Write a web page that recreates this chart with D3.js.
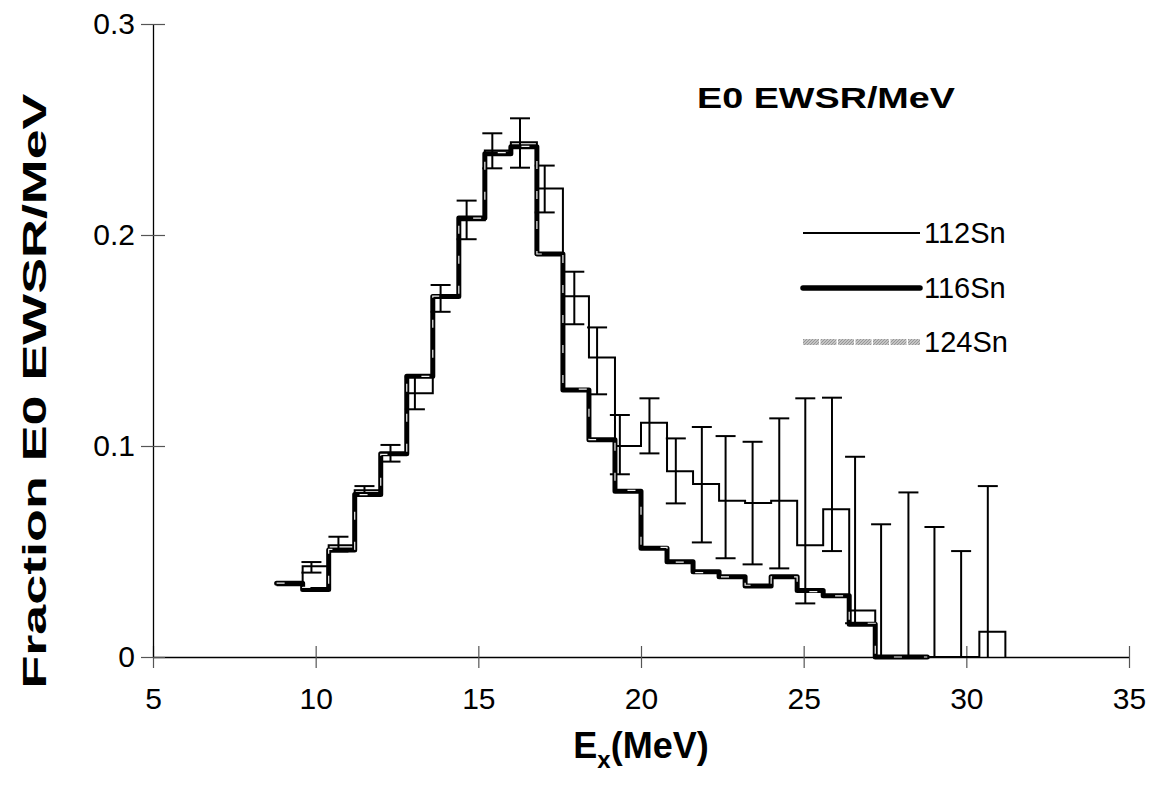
<!DOCTYPE html>
<html>
<head>
<meta charset="utf-8">
<script src="https://cdn.jsdelivr.net/npm/d3@7"></script>
<style>
  body { margin: 0; background: #fff; }
  text { font-family: Arial, "Liberation Sans", sans-serif; }
</style>
</head>
<body>
<div id="wrapper"></div>
<script>
// bin edges (MeV), shared by all three histograms
const binEdges = [8.8, 9.6, 10.4, 11.2, 12.0, 12.8, 13.6, 14.4, 15.2, 16.0, 16.8, 17.6, 18.4, 19.2,
  20.0, 20.8, 21.6, 22.4, 23.2, 24.0, 24.8, 25.6, 26.4, 27.2, 28.0, 28.8, 29.6, 30.4, 31.2]

// 112Sn: value per bin + error bars
const sn112 = [0.034, 0.043, 0.053, 0.079, 0.096, 0.125, 0.171, 0.207, 0.240, 0.244, 0.222, 0.171, 0.142, 0.100,
  0.111, 0.088, 0.082, 0.074, 0.073, 0.074, 0.053, 0.070, 0.022, 0, 0, 0, 0, 0.012]
const sn112ErrE = [null, 9.87, 10.70, 11.50, 12.30, 13.05, 13.84, 14.64, 15.43, 16.28, 17.04, 17.95, 18.65, 19.35,
  20.26, 21.07, 21.87, 22.60, 23.43, 24.25, 25.05, 25.87, 26.58, 27.38, 28.22, 29.02, 29.84, 30.66]
const sn112Lo = [null, 0.040, 0.050, 0.077, 0.0926, 0.1174, 0.1636, 0.198, 0.2316, 0.2319, 0.2107, 0.1577, 0.1245, 0.0866,
  0.0965, 0.0728, 0.0543, 0.0468, 0.0439, 0.042, 0.0254, 0.0502, 0.016, 0, 0, 0, 0, 0]
const sn112Hi = [null, 0.045, 0.057, 0.081, 0.1005, 0.1327, 0.1763, 0.2163, 0.2482, 0.2553, 0.2329, 0.1826, 0.1562, 0.1147,
  0.1226, 0.1036, 0.109, 0.1047, 0.102, 0.1131, 0.1226, 0.1229, 0.0949, 0.0629, 0.078, 0.0616, 0.0502, 0.081]

// 116Sn
const sn116 = [0.035, 0.032, 0.0507, 0.077, 0.0963, 0.133, 0.1708, 0.208, 0.2385, 0.2418, 0.191, 0.1265, 0.103, 0.0785,
  0.0515, 0.0452, 0.0404, 0.038, 0.0336, 0.038, 0.0315, 0.029, 0.0155, 0, 0]

// 124Sn (light hatched, mostly hidden under the others)
const sn124 = [0.035, 0.033, 0.051, 0.077, 0.096, 0.133, 0.171, 0.208, 0.239, 0.242, 0.191, 0.127, 0.103, 0.079,
  0.052, 0.045, 0.040, 0.038, 0.034, 0.038, 0.031, 0.029, 0.016, 0, 0]

const xTicks = [5, 10, 15, 20, 25, 30, 35]
const yTicks = [0, 0.1, 0.2, 0.3]
const yTickLabels = ["0", "0.1", "0.2", "0.3"]
const seriesNames = ["112Sn", "116Sn", "124Sn"]

const width = 1151
const height = 794

const svg = d3.select("#wrapper")
  .append("svg")
  .attr("width", width)
  .attr("height", height)

const defs = svg.append("defs")
const hatch = defs.append("pattern")
  .attr("id", "hatch")
  .attr("patternUnits", "userSpaceOnUse")
  .attr("width", 3)
  .attr("height", 3)
hatch.append("rect").attr("width", 3).attr("height", 3).attr("fill", "#c4c4c4")
hatch.append("path").attr("d", "M0,3 L3,0").attr("stroke", "#8c8c8c").attr("stroke-width", 0.8)

const xScale = d3.scaleLinear().domain([5, 35]).range([153, 1129])
const yScale = d3.scaleLinear().domain([0, 0.3]).range([657, 24])

// axes
const xAxis = svg.append("g")
  .attr("transform", `translate(0,${yScale(0)})`)
  .call(d3.axisBottom(xScale).tickValues(xTicks).tickSize(11).tickSizeOuter(0).tickPadding(20))
xAxis.select(".domain").attr("stroke", "#000").attr("stroke-width", 1.3)
xAxis.selectAll(".tick line").attr("y1", -11).attr("y2", 11).attr("stroke", "#555").attr("stroke-width", 1.2)
xAxis.selectAll(".tick text").attr("font-size", 30).attr("fill", "#000")
  .style("font-family", "Arial, 'Liberation Sans', sans-serif")

const yAxis = svg.append("g")
  .attr("transform", `translate(${xScale(5)},0)`)
  .call(d3.axisLeft(yScale).tickValues(yTicks).tickFormat((d, i) => yTickLabels[i])
    .tickSize(12).tickSizeOuter(0).tickPadding(6))
yAxis.select(".domain").attr("stroke", "#000").attr("stroke-width", 1.3)
yAxis.selectAll(".tick line").attr("x1", -12).attr("x2", 12).attr("stroke", "#555").attr("stroke-width", 1.2)
yAxis.selectAll(".tick text").attr("font-size", 30).attr("fill", "#000")
  .style("font-family", "Arial, 'Liberation Sans', sans-serif")

// step path builder
const stepLine = d3.line()
  .x(d => xScale(d[0]))
  .y(d => yScale(d[1]))
  .curve(d3.curveStepAfter)

const stepPoints = (vals, closeToZero) => {
  const pts = vals.map((v, i) => [binEdges[i], v])
  pts.push([binEdges[vals.length], vals[vals.length - 1]])
  if (closeToZero) pts.push([binEdges[vals.length], 0])
  return pts
}

const plot = svg.append("g")

// 112Sn error bars
const errData = sn112ErrE.map((e, i) => ({ e, lo: sn112Lo[i], hi: sn112Hi[i] })).filter(d => d.e !== null)
const capHalf = 10
const errG = plot.append("g").attr("stroke", "#000").attr("stroke-width", 2)
errG.selectAll(".eb")
  .data(errData)
  .join("line")
  .attr("x1", d => xScale(d.e)).attr("x2", d => xScale(d.e))
  .attr("y1", d => yScale(d.lo)).attr("y2", d => yScale(d.hi))
errG.selectAll(".capHi")
  .data(errData)
  .join("line")
  .attr("class", "capHi")
  .attr("x1", d => xScale(d.e) - capHalf).attr("x2", d => xScale(d.e) + capHalf)
  .attr("y1", d => yScale(d.hi)).attr("y2", d => yScale(d.hi))
errG.selectAll(".capLo")
  .data(errData.filter(d => d.lo > 0))
  .join("line")
  .attr("class", "capLo")
  .attr("x1", d => xScale(d.e) - capHalf).attr("x2", d => xScale(d.e) + capHalf)
  .attr("y1", d => yScale(d.lo)).attr("y2", d => yScale(d.lo))

// 112Sn step
plot.append("path")
  .attr("d", stepLine(stepPoints(sn112, true)))
  .attr("fill", "none")
  .attr("stroke", "#000")
  .attr("stroke-width", 2)

// 116Sn step
plot.append("path")
  .attr("d", stepLine(stepPoints(sn116, false)))
  .attr("fill", "none")
  .attr("stroke", "#000")
  .attr("stroke-width", 5)
  .attr("stroke-linejoin", "round")
  .attr("stroke-linecap", "round")

// 124Sn step (pale hatched line on top, only breaks the dark lines here and there)
plot.append("path")
  .attr("d", stepLine(stepPoints(sn124, false)))
  .attr("fill", "none")
  .attr("stroke", "#f2f2f2")
  .attr("stroke-width", 1.2)
  .attr("stroke-dasharray", "8,22")

// legend
const legendY = [233, 288, 342]
const legend = svg.append("g")
const legendStyles = [
  { stroke: "#000", width: 2.2, cap: "butt" },
  { stroke: "#000", width: 5.5, cap: "round" },
  { stroke: "url(#hatch)", width: 6, cap: "butt" },
]
seriesNames.forEach((name, i) => {
  legend.append("line")
    .attr("x1", 803).attr("x2", 920)
    .attr("y1", legendY[i]).attr("y2", legendY[i])
    .attr("stroke", legendStyles[i].stroke)
    .attr("stroke-width", legendStyles[i].width)
    .attr("stroke-linecap", legendStyles[i].cap)
    .attr("stroke-dasharray", i === 2 ? "16,1.5" : null)
  legend.append("text")
    .attr("x", 924).attr("y", legendY[i] + 10)
    .attr("font-size", 29)
    .text(name)
})

// in-plot title
svg.append("text")
  .attr("x", 697).attr("y", 108)
  .attr("font-size", 30)
  .attr("font-weight", "bold")
  .attr("textLength", 258)
  .attr("lengthAdjust", "spacingAndGlyphs")
  .text("E0  EWSR/MeV")

// x title
const xt = svg.append("text")
  .attr("x", 641).attr("y", 758)
  .attr("text-anchor", "middle")
  .attr("font-size", 36)
  .attr("font-weight", "bold")
xt.append("tspan").text("E")
xt.append("tspan").attr("font-size", 24).attr("dy", 10).text("x")
xt.append("tspan").attr("dy", -10).text("(MeV)")

// y title
svg.append("text")
  .attr("transform", `translate(46,391) rotate(-90)`)
  .attr("text-anchor", "middle")
  .attr("font-size", 33)
  .attr("font-weight", "bold")
  .attr("textLength", 595)
  .attr("lengthAdjust", "spacingAndGlyphs")
  .text("Fraction E0 EWSR/MeV")
</script>
</body>
</html>
